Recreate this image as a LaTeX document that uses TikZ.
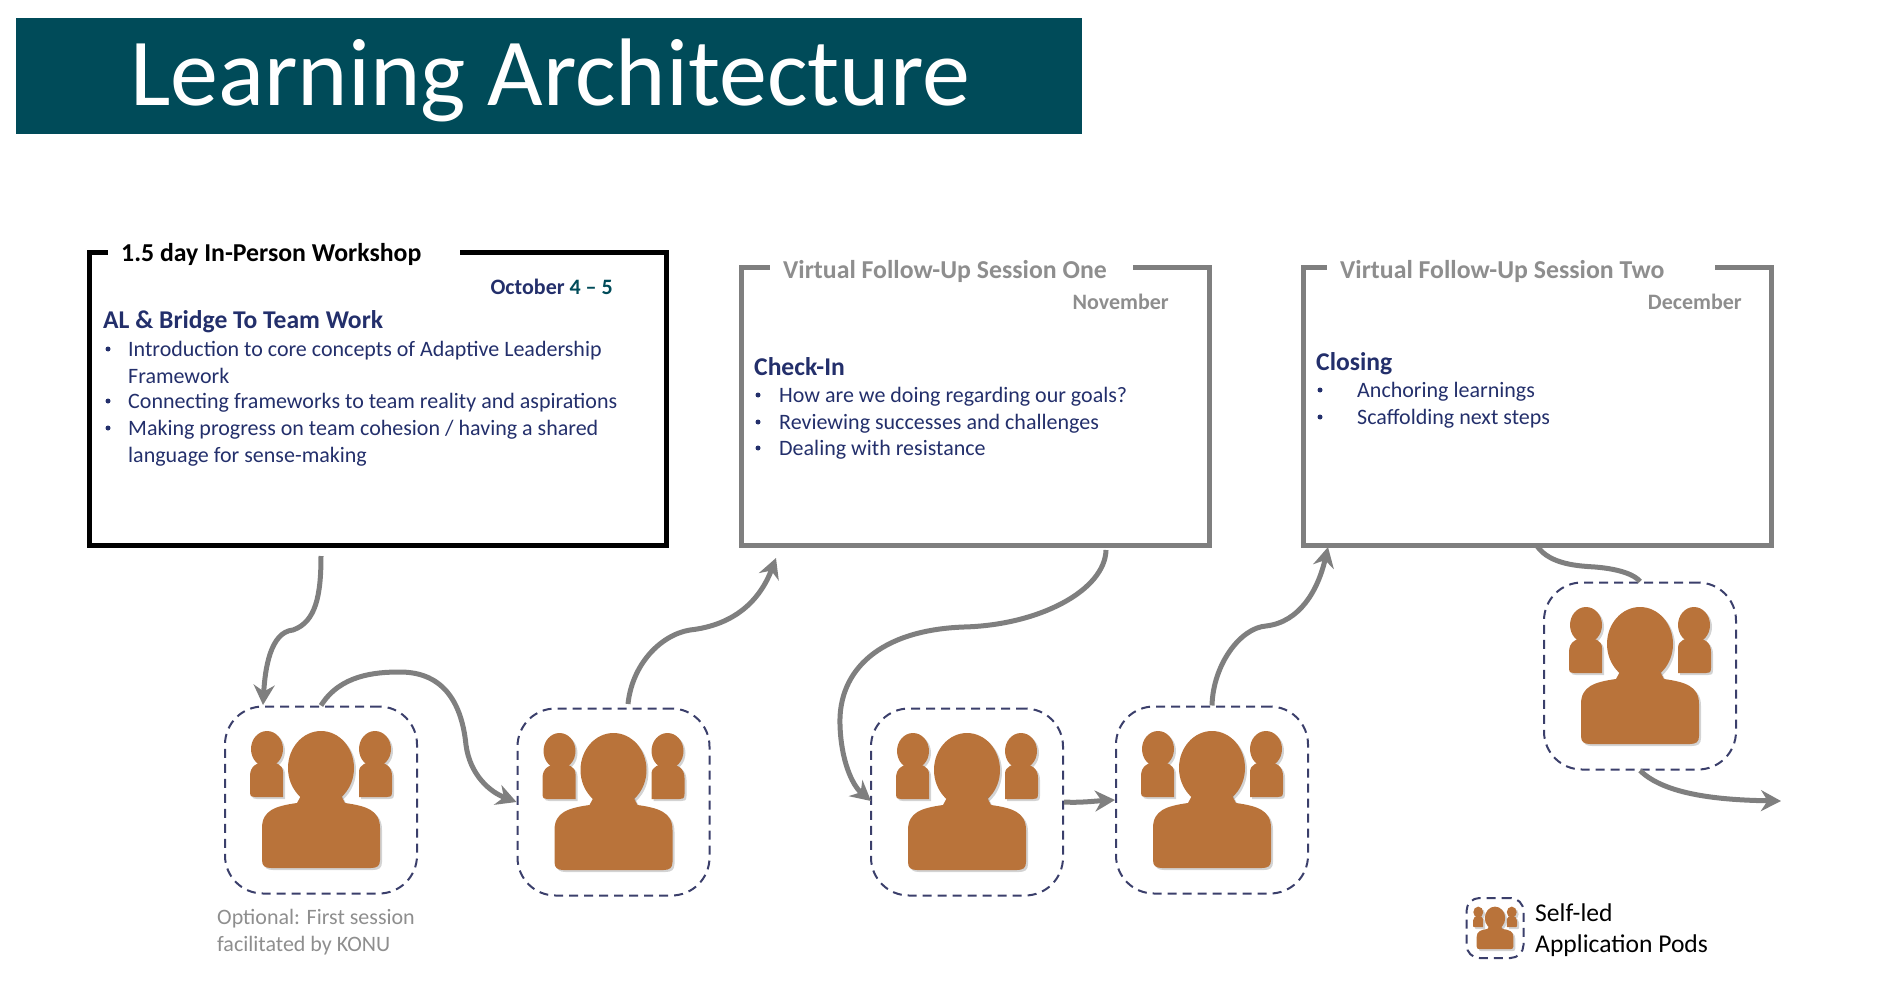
\documentclass[tikz,border=0pt]{standalone}
\usepackage{fontspec}
\setmainfont{Carlito}
\usetikzlibrary{arrows.meta,shadows}

\definecolor{titleteal}{HTML}{004B59}
\definecolor{navytext}{HTML}{232F6B}
\definecolor{podline}{HTML}{3B3F6B}
\definecolor{podorange}{HTML}{B9733A}
\definecolor{linegray}{HTML}{7F7F7F}
\definecolor{softgray}{HTML}{8E8E8E}

\tikzset{
  sessionbox/.style={draw=linegray,line width=5pt,minimum height=277pt},
  boxtitle/.style={fill=white,anchor=west,inner xsep=13pt,inner ysep=4pt,align=flush left,
    font=\fontsize{25.8}{30}\selectfont\bfseries,text=softgray},
  boxdate/.style={anchor=east,inner sep=0pt,font=\fontsize{22}{26}\selectfont\bfseries,text=softgray},
  boxhead/.style={anchor=west,inner sep=0pt,font=\fontsize{25.6}{30}\selectfont\bfseries,text=navytext},
  boxitem/.style={anchor=west,inner sep=0pt,font=\fontsize{22}{26}\selectfont,text=navytext},
  boxdot/.style={circle,fill=navytext,inner sep=0pt,minimum size=5pt},
  keytext/.style={anchor=west,inner sep=0pt,font=\fontsize{25.6}{30}\selectfont,text=black},
  pod/.style={draw=podline,line width=2pt,dash pattern=on 9pt off 6pt,rounded corners=38pt,
    minimum width=192pt,minimum height=187pt},
  flow/.style={draw=linegray,line width=5pt,-{Stealth[length=20pt,width=21pt]}},
  podshade/.style={podorange,drop shadow={shadow xshift=2pt,shadow yshift=-2pt,opacity=.35}},
  podicon/.pic={
    \foreach \s in {-1,1}{
      \fill[podshade] (\s*54,-51) ellipse (16 and 18);
      \fill[podshade] (\s*71,-8) .. controls (\s*71,-3) and (\s*69,-3) .. (\s*66,-3) -- (\s*38,-3)
        -- (\s*38,-28) .. controls (\s*38,-36) and (\s*46,-38) .. (\s*54,-38)
        .. controls (\s*64,-38) and (\s*71,-34) .. (\s*71,-24) -- cycle;
    }
    \fill[podshade] (0,-32) ellipse (33 and 37);
    \fill[podshade]
      (-59,60) -- (-59,28) .. controls (-59,10) and (-45,6) .. (-24,3) -- (-18,-8) -- (18,-8) -- (24,3)
      .. controls (45,6) and (59,10) .. (59,28) -- (59,60) .. controls (59,66) and (56,68) .. (50,68)
      -- (-50,68) .. controls (-56,68) and (-59,66) .. (-59,60) -- cycle;
  }
}

\begin{document}
\begin{tikzpicture}[x=1pt,y=-1pt]
  \useasboundingbox (0,0) rectangle (1890,992);

  % title bar
  \node[fill=titleteal,minimum width=1066pt,minimum height=116pt,inner sep=0pt] (titlebar) at (549,76) {};
  \node[text=white,anchor=west,inner sep=0pt,font=\fontsize{96}{100}\selectfont] (titletext) at (130,80) {Learning Architecture};

  % session boxes
  \node[sessionbox,draw=black,minimum width=577pt,minimum height=292pt] (wshop) at (377.5,399) {};
  \node[sessionbox,minimum width=468pt] (sessone) at (975,406.5) {};
  \node[sessionbox,minimum width=468pt] (sesstwo) at (1537,406.5) {};

  \node[boxtitle,text=black,text width=326pt] (wshoptitle) at (108,254) {1.5 day In-Person Workshop};
  \node[boxtitle,text width=337pt] (sessonetitle) at (770,271) {Virtual Follow-Up Session One};
  \node[boxtitle,text width=362pt] (sesstwotitle) at (1327,271) {Virtual Follow-Up Session Two};

  \node[boxdate,text=navytext] (wshopdate) at (613,287) {October \textcolor{titleteal}{4 -- 5}};
  \node[boxdate] (sessonedate) at (1169,302) {November};
  \node[boxdate] (sesstwodate) at (1742,302) {December};

  % workshop text
  \node[boxhead] (wshophead) at (103,322) {AL \& Bridge To Team Work};
  \foreach \y/\t in {351/{Introduction to core concepts of Adaptive Leadership},376/{Framework},
    403/{Connecting frameworks to team reality and aspirations},
    430/{Making progress on team cohesion / having a shared},457/{language for sense-making}}
    \node[boxitem] (wline\y) at (128,\y) {\t};
  \foreach \y in {349,401,428}
    \node[boxdot] (wdot\y) at (108,\y) {};

  % session one text
  \node[boxhead] (onehead) at (754,367) {Check-In};
  \foreach \y/\t in {397/{How are we doing regarding our goals?},424/{Reviewing successes and challenges},450/{Dealing with resistance}}{
    \node[boxitem] (oneline\y) at (779,\y) {\t};
    \node[boxdot] (onedot\y) at (758,\y-2) {};
  }

  % session two text
  \node[boxhead] (twohead) at (1316,364) {Closing};
  \foreach \y/\t in {392/{Anchoring learnings},419/{Scaffolding next steps}}{
    \node[boxitem] (twoline\y) at (1357,\y) {\t};
    \node[boxdot] (twodot\y) at (1320,\y-2) {};
  }

  % pods
  \foreach \n/\x/\y in {podA/321/800,podB/613.5/802,podC/967/802,podD/1212/800,podE/1640/676}{
    \node[pod] (\n) at (\x,\y) {};
    \pic at (\x,\y) {podicon};
  }

  % legend
  \node[pod,minimum width=57pt,minimum height=60pt,rounded corners=13pt] (podkey) at (1495,928) {};
  \pic[scale=.31] at (1495,928) {podicon};
  \node[keytext] (keyone) at (1535,913) {Self-led};
  \node[keytext] (keytwo) at (1535,946) {Application Pods};

  % note
  \node[boxitem,text=softgray] (noteone) at (217,919) {Optional: First session};
  \node[boxitem,text=softgray] (notetwo) at (217,946) {facilitated by KONU};

  % free ends
  \coordinate (wshopout) at (321,556);
  \coordinate (podAin) at (263,705);
  \coordinate (podBout) at (628,704);
  \coordinate (oneIn) at (776,558);
  \coordinate (oneOut) at (1106,550);
  \coordinate (podCin) at (871,801);
  \coordinate (twoIn) at (1328,547);
  \coordinate (twoOut) at (1537,546);
  \coordinate (flowend) at (1781,801);

  % flow
  \draw[flow] (wshopout) .. controls (321,595) and (316,622) .. (293,630) .. controls (270,632) and (265,670) .. (podAin);
  \draw[flow] (podA.north) .. controls (340,675) and (375,672) .. (400,672) .. controls (445,672) and (462,705) .. (466,745)
    .. controls (470,775) and (490,792) .. (podB.west);
  \draw[flow] (podBout) .. controls (632,665) and (660,635) .. (690,630) .. controls (735,625) and (760,600) .. (oneIn);
  \draw[flow] (oneOut) .. controls (1105,590) and (1040,625) .. (964,627) .. controls (880,630) and (838,670) .. (840,725)
    .. controls (841,760) and (852,785) .. (podCin);
  \draw[flow] (podC.east) .. controls (1080,803) and (1095,801) .. (podD.west);
  \draw[flow] (podD.north) .. controls (1213,665) and (1240,628) .. (1266,626) .. controls (1300,622) and (1318,590) .. (twoIn);
  \draw[flow,-] (twoOut) .. controls (1550,565) and (1580,566) .. (1595,567) .. controls (1620,569) and (1635,575) .. (podE.north);
  \draw[flow] (podE.south) .. controls (1665,795) and (1720,800) .. (flowend);
\end{tikzpicture}
\end{document}
